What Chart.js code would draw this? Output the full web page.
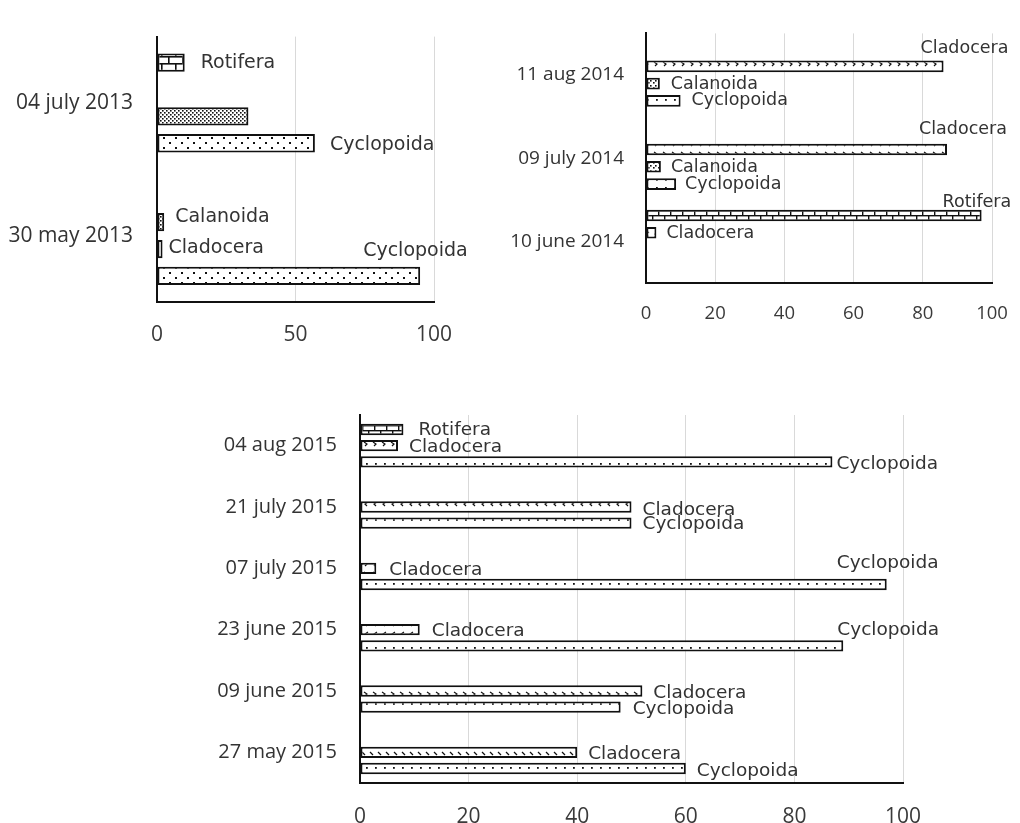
<!DOCTYPE html>
<html>
<head>
<meta charset="utf-8">
<script src="https://cdn.jsdelivr.net/npm/chart.js@4.4.0/dist/chart.umd.min.js"></script>
<style>
  body { margin: 0; background: #fff; width: 1020px; height: 823px; position: relative; overflow: hidden; }
  canvas { position: absolute; }
</style>
</head>
<body>
<canvas id="c2013" width="480" height="345" style="left:0;top:0"></canvas>
<canvas id="c2014" width="540" height="330" style="left:490px;top:0"></canvas>
<canvas id="c2015" width="800" height="443" style="left:200px;top:380px"></canvas>
<script>
// ---- data (% of zooplankton) ----
const dates2013 = ["04 july 2013", "30 may 2013"];
const series2013 = ["Rotifera", "Calanoida", "Cladocera", "Cyclopoida"];
const rotifera2013 = [10, null];
const calanoida2013 = [null, 2.6];
const cladocera2013 = [33, 2];
const cyclopoida2013 = [57, 95];

const dates2014 = ["11 aug 2014", "09 july 2014", "10 june 2014"];
const series2014 = ["Rotifera", "Cladocera", "Calanoida", "Cyclopoida"];
const rotifera2014 = [null, null, 97];
const cladocera2014 = [86, 87, 3];
const calanoida2014 = [4, 4.3, null];
const cyclopoida2014 = [10, 8.7, null];

const dates2015 = ["04 aug 2015", "21 july 2015", "07 july 2015", "23 june 2015", "09 june 2015", "27 may 2015"];
const series2015 = ["Rotifera", "Cladocera", "Cyclopoida"];
const rotifera2015 = [8, null, null, null, null, null];
const cladocera2015 = [7, 50, 3, 11, 52, 40];
const cyclopoida2015 = [87, 50, 97, 89, 48, 60];

const ticks2013 = 50;
const ticks2014 = 20;
const ticks2015 = 20;

// ---- fills per bar (pattern names) ----
const fill2013 = [["bricks", null], [null, "dense"], ["dense", "dots"], ["dots", "dots"]];
const fill2014 = [[null, null, "smallbricks"], ["hooks", "hooks", "backhooks"], ["confetti", "confetti", null], ["rowdots", "rowdots", null]];
const fill2015 = [["smallbricks", null, null, null, null, null],
                  ["hooks", "backhooks", "hooks", "backhooks", "hooks", "slashes"],
                  ["rowdots", "rowdots", "rowdots", "rowdots", "rowdots", "rowdots"]];

// ---- label offsets from bar end / bar centre, null = no label ----
const labelAt2013 = [[[16, 0], null], [null, [11, -5]], [null, [6, -1]], [[15, 2], [-57, -25]]];
const labelAt2014 = [[null, null, [-39, -13]], [[-23, -18], [-28, -20], [10, 1]], [[11, 1], [10, 1], null], [[11, 0], [9, 0], null]];
const labelAt2015 = [[[15, 1], null, null, null, null, null],
                     [[11, 2], [11, 3], [13, 2], [12, 2], [11, 2], [11, 2]],
                     [[4, 2], [11, 1], [-50, -21], [-6, -16], [12, 2], [11, 3]]];

// ---- patterns ----
const painters = {
  dots: [12, 10, (g) => { g.fillRect(1, 2, 2, 2); g.fillRect(7, 7, 2, 2); }],
  rowdots: [9, 8, (g) => { g.fillRect(4, 3, 1.8, 1.8); }],
  dense: [4, 4, (g) => { g.fillRect(0, 0, 1.6, 1.6); g.fillRect(2, 2, 1.6, 1.6); }],
  confetti: [5, 5, (g) => { g.fillRect(0, 0, 1.6, 1.6); g.fillRect(3, 2, 1.6, 1.6); }],
  bricks: [14, 14, (g) => {
    g.fillRect(0, 0, 14, 1.6); g.fillRect(0, 7, 14, 1.6);
    g.fillRect(0, 0, 1.6, 7); g.fillRect(7, 7, 1.6, 7);
  }],
  smallbricks: [12, 10, (g) => {
    g.fillRect(0, 0, 12, 1.4); g.fillRect(0, 5, 12, 1.4);
    g.fillRect(0, 0, 1.4, 5); g.fillRect(6, 5, 1.4, 5);
  }],
  hooks: [9, 10, (g) => {
    g.beginPath(); g.moveTo(2, 2); g.lineTo(5, 4); g.lineTo(3, 6); g.stroke();
  }],
  backhooks: [9, 10, (g) => {
    g.beginPath(); g.moveTo(6, 2); g.lineTo(3, 4); g.lineTo(5, 6); g.stroke();
  }],
  slashes: [8, 10, (g) => {
    g.beginPath(); g.moveTo(2, 2); g.lineTo(5, 5); g.stroke();
  }],
};

const patternCtx = document.createElement("canvas").getContext("2d");
const patterns = {};
const makePattern = (name) => {
  if (!name) return "#fff";
  if (patterns[name]) return patterns[name];
  const [w, h, paint] = painters[name];
  const c = document.createElement("canvas");
  c.width = w; c.height = h;
  const g = c.getContext("2d");
  g.fillStyle = "#fff"; g.fillRect(0, 0, w, h);
  g.fillStyle = "#111"; g.strokeStyle = "#111"; g.lineWidth = 1.2;
  paint(g);
  patterns[name] = patternCtx.createPattern(c, "repeat");
  return patterns[name];
};

const labelPlugin = (at, size) => ({
  id: "barLabels",
  afterDatasetsDraw(chart) {
    const ctx = chart.ctx;
    ctx.save();
    ctx.font = `${size}px "DejaVu Sans"`;
    ctx.fillStyle = "#333";
    ctx.textAlign = "left";
    ctx.textBaseline = "middle";
    chart.data.datasets.forEach((ds, i) => {
      chart.getDatasetMeta(i).data.forEach((bar, j) => {
        const off = at[i][j];
        if (!off || ds.data[j] == null) return;
        ctx.fillText(ds.label, bar.x + off[0], bar.y + off[1]);
      });
    });
    ctx.restore();
  }
});

const make_chart = (id, cfg) => {
  const datasets = cfg.series.map((name, i) => ({
    label: name,
    data: cfg.values[i],
    backgroundColor: cfg.fills[i].map(makePattern),
    borderColor: "#111",
    borderWidth: 2,
    borderSkipped: false,
    categoryPercentage: cfg.cat,
    barPercentage: cfg.bar,
  }));
  return new Chart(document.getElementById(id).getContext("2d"), {
    type: "bar",
    data: { labels: cfg.dates, datasets: datasets },
    plugins: [labelPlugin(cfg.labelAt, cfg.labelSize)],
    options: {
      indexAxis: "y",
      responsive: false,
      animation: false,
      layout: { padding: { left: 0, top: cfg.top, right: cfg.right, bottom: 0 } },
      plugins: { legend: { display: false }, tooltip: { enabled: false } },
      scales: {
        x: {
          min: 0, max: 100,
          ticks: { stepSize: cfg.step, color: "#3a3a3a", padding: cfg.xPad,
                   font: { family: "Open Sans", size: cfg.xFont } },
          grid: { color: "#d9d9d9", lineWidth: 1, drawTicks: false },
          border: { color: "#111", width: 2 },
          afterFit: (s) => { s.height = cfg.xHeight; },
        },
        y: {
          ticks: { color: "#333", padding: cfg.yPad,
                   font: { family: "Open Sans", size: cfg.yFont } },
          grid: { display: false, drawTicks: false },
          border: { color: "#111", width: 2 },
          afterFit: (s) => { s.width = cfg.left; },
        },
      },
    },
  });
};

make_chart("c2013", {
  dates: dates2013, series: series2013,
  values: [rotifera2013, calanoida2013, cladocera2013, cyclopoida2013],
  fills: fill2013, labelAt: labelAt2013, labelSize: 19,
  step: ticks2013, cat: 0.81, bar: 0.68,
  left: 157, top: 25, right: 46, xHeight: 43,
  xPad: 20, yPad: 24, xFont: 21, yFont: 21,
});

make_chart("c2014", {
  dates: dates2014, series: series2014,
  values: [rotifera2014, cladocera2014, calanoida2014, cyclopoida2014],
  fills: fill2014, labelAt: labelAt2014, labelSize: 17.5,
  step: ticks2014, cat: 0.83, bar: 0.67,
  left: 156, top: 14, right: 38, xHeight: 47,
  xPad: 20, yPad: 22, xFont: 18.5, yFont: 19,
});

make_chart("c2015", {
  dates: dates2015, series: series2015,
  values: [rotifera2015, cladocera2015, cyclopoida2015],
  fills: fill2015, labelAt: labelAt2015, labelSize: 18.5,
  step: ticks2015, cat: 0.79, bar: 0.7,
  left: 160, top: 27, right: 97, xHeight: 40,
  xPad: 21, yPad: 23, xFont: 21, yFont: 20,
});
</script>
</body>
</html>
